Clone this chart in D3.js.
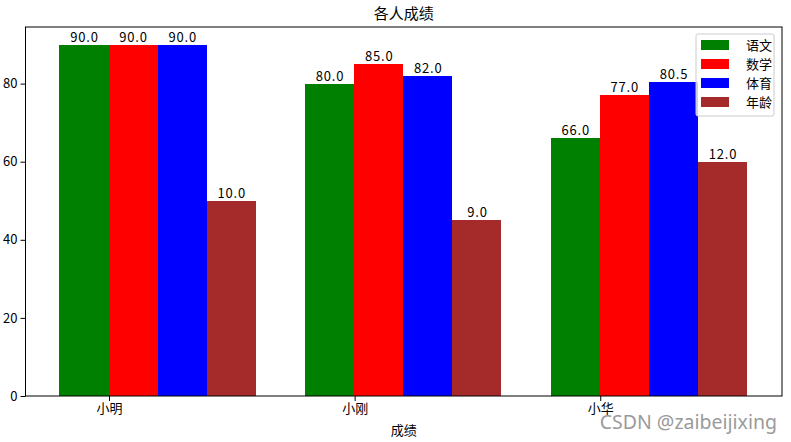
<!DOCTYPE html>
<html>
<head>
<meta charset="utf-8">
<script src="https://cdn.jsdelivr.net/npm/d3@7"></script>
<style>
  body { margin: 0; background: #fff; }
  svg { font-family: "Noto Sans CJK SC", sans-serif; }
</style>
</head>
<body>
<svg id="chart" width="791" height="442"></svg>
<script>
// ---------- 数据 ----------
const names = ['小明', '小刚', '小华'];
const seriesNames = ['语文', '数学', '体育', '年龄'];
const seriesColors = ['green', 'red', 'blue', 'brown'];
const chinese = [90, 80, 66];
const math = [90, 85, 77];
const sports = [90, 82, 80.5];
const ageHeights = [50, 45, 60];   // 柱高（年龄放大显示）
const ageLabels = [10, 9, 12];     // 柱顶显示的年龄
const yTicks = [0, 20, 40, 60, 80];

const heights = [chinese, math, sports, ageHeights];
const labels = [chinese, math, sports, ageLabels];

// ---------- 布局 ----------
const svg = d3.select('#chart');
const plotL = 25.5, plotR = 782, plotT = 27, plotB = 396;
const barW = 0.2;

const x = d3.scaleLinear().domain([-0.34, 2.74]).range([plotL, plotR]);
const y = d3.scaleLinear().domain([0, 94.5]).range([plotB, plotT]);

// 柱子
const bars = [];
heights.forEach((arr, s) => {
  arr.forEach((v, i) => {
    bars.push({ s, i, v, label: labels[s][i], x0: i - barW + s * barW });
  });
});

svg.append('g').attr('shape-rendering', 'crispEdges').selectAll('rect')
  .data(bars)
  .join('rect')
  .attr('x', d => x(d.x0) - 0.5)
  .attr('y', d => y(d.v))
  .attr('width', d => x(d.x0 + barW) - x(d.x0))
  .attr('height', d => y(0) - y(d.v))
  .attr('fill', d => seriesColors[d.s]);

// 柱顶数值
svg.append('g').selectAll('text')
  .data(bars)
  .join('text')
  .attr('x', d => x(d.x0 + barW / 2))
  .attr('y', d => y(d.v) - 3)
  .attr('text-anchor', 'middle')
  .attr('font-size', 13)
  .attr('letter-spacing', 0.8)
  .attr('fill', '#000')
  .text(d => d.label.toFixed(1));

// 坐标轴
const xAxis = d3.axisBottom(x).tickValues([0, 1, 2]).tickFormat(i => names[i]).tickSize(5).tickPadding(3);
const yAxis = d3.axisLeft(y).tickValues(yTicks).tickSize(5).tickPadding(3);

svg.append('g').attr('transform', `translate(0,${plotB})`).call(xAxis)
  .call(g => g.select('.domain').remove())
  .call(g => g.selectAll('text').attr('font-size', 13).attr('fill', '#000').style('font-family', '"Noto Sans CJK SC"'));
svg.append('g').attr('transform', `translate(${plotL},0)`).call(yAxis)
  .call(g => g.select('.domain').remove())
  .call(g => g.selectAll('text').attr('font-size', 13).attr('fill', '#000').style('font-family', '"Noto Sans CJK SC"'));

// 边框
svg.append('rect')
  .attr('x', plotL).attr('y', plotT)
  .attr('width', plotR - plotL).attr('height', plotB - plotT)
  .attr('fill', 'none').attr('stroke', '#000').attr('stroke-width', 1);

// 标题 / x 轴标签
svg.append('text').attr('x', (plotL + plotR) / 2).attr('y', 19)
  .attr('text-anchor', 'middle').attr('font-size', 15).text('各人成绩');
svg.append('text').attr('x', (plotL + plotR) / 2).attr('y', 435)
  .attr('text-anchor', 'middle').attr('font-size', 13).text('成绩');

// 图例
const lg = svg.append('g').attr('transform', 'translate(696,34)');
lg.append('rect').attr('width', 78).attr('height', 82).attr('rx', 2)
  .attr('fill', '#fff').attr('fill-opacity', 0.8).attr('stroke', '#ccc');
const items = lg.selectAll('g.item')
  .data(seriesNames)
  .join('g')
  .attr('class', 'item')
  .attr('transform', (d, i) => `translate(5,${6 + i * 19})`);
items.append('rect').attr('width', 28).attr('height', 10).attr('fill', (d, i) => seriesColors[i]);
items.append('text').attr('x', 45).attr('y', 10).attr('font-size', 13).text(d => d);

// 水印
svg.append('text').attr('x', 777).attr('y', 429)
  .attr('text-anchor', 'end').attr('font-size', 19.5)
  .attr('font-family', '"Noto Sans", sans-serif')
  .attr('fill', '#9a9a9a').text('CSDN @zaibeijixing');
</script>
</body>
</html>
